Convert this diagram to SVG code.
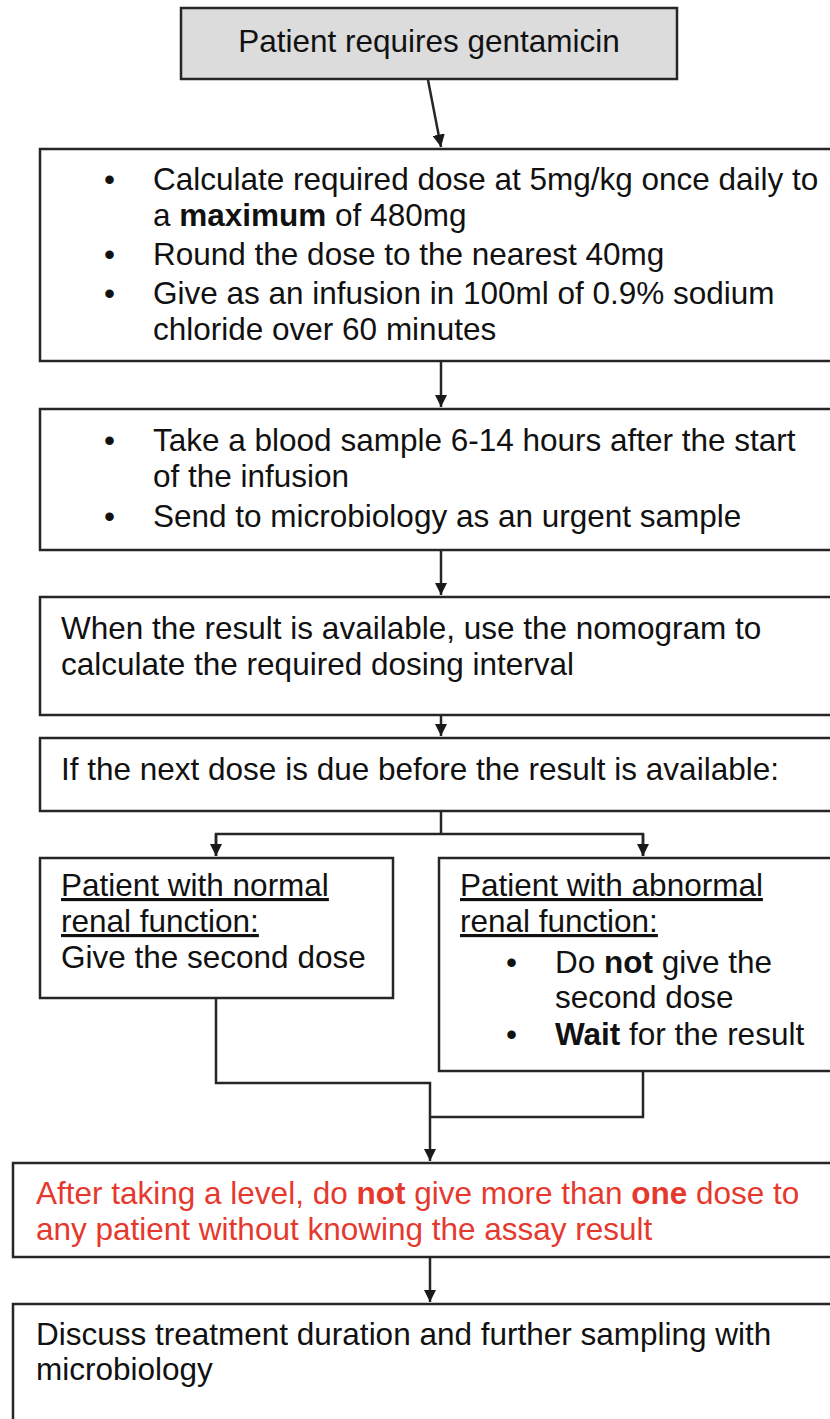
<svg xmlns="http://www.w3.org/2000/svg" width="830" height="1419" viewBox="0 0 830 1419">
<defs>
<style>
.box{fill:#ffffff;stroke:#262626;stroke-width:2.5}
.start{fill:#dcdcdc;stroke:#262626;stroke-width:2.5}
.t{font-family:"Liberation Sans",Arial,sans-serif;font-size:31.5px;fill:#111111}
.red{fill:#e6392e}
.b{font-weight:bold}
.u{text-decoration:underline}
.conn{fill:none;stroke:#262626;stroke-width:2.5}
</style>
<marker id="arr" viewBox="0 0 10 10" refX="10" refY="5" markerWidth="5" markerHeight="5" orient="auto" markerUnits="strokeWidth">
<path d="M0,0 L10,5 L0,10 Z" fill="#1a1a1a"/>
</marker>
</defs>
<rect width="830" height="1419" fill="#ffffff"/>

<g id="connectors">
<line class="conn" x1="428" y1="80" x2="441" y2="147" marker-end="url(#arr)"/>
<line class="conn" x1="441" y1="362" x2="441" y2="407" marker-end="url(#arr)"/>
<line class="conn" x1="441" y1="551" x2="441" y2="595" marker-end="url(#arr)"/>
<line class="conn" x1="441" y1="716" x2="441" y2="736" marker-end="url(#arr)"/>
<polyline class="conn" points="441,812 441,834"/>
<polyline class="conn" points="216,856 216,834 643,834 643,856"/>
<line class="conn" x1="216" y1="834" x2="216" y2="856" marker-end="url(#arr)"/>
<line class="conn" x1="643" y1="834" x2="643" y2="856" marker-end="url(#arr)"/>
<polyline class="conn" points="216,999 216,1083 430,1083 430,1161" marker-end="url(#arr)"/>
<polyline class="conn" points="643,1072 643,1117 430,1117"/>
<line class="conn" x1="430" y1="1258" x2="430" y2="1302" marker-end="url(#arr)"/>
</g>

<g id="n1">
<rect class="start" x="181" y="8" width="496" height="71"/>
<text class="t" x="429" y="52" text-anchor="middle">Patient requires gentamicin</text>
</g>

<g id="n2">
<rect class="box" x="40" y="149" width="800" height="212"/>
<text class="t" x="104" y="190">•</text>
<text class="t" x="153" y="190">Calculate required dose at 5mg/kg once daily to</text>
<text class="t" x="153" y="226">a <tspan class="b">maximum</tspan> of 480mg</text>
<text class="t" x="104" y="265">•</text>
<text class="t" x="153" y="265">Round the dose to the nearest 40mg</text>
<text class="t" x="104" y="304">•</text>
<text class="t" x="153" y="304">Give as an infusion in 100ml of 0.9% sodium</text>
<text class="t" x="153" y="340">chloride over 60 minutes</text>
</g>

<g id="n3">
<rect class="box" x="40" y="409" width="800" height="141"/>
<text class="t" x="104" y="451">•</text>
<text class="t" x="153" y="451">Take a blood sample 6-14 hours after the start</text>
<text class="t" x="153" y="487">of the infusion</text>
<text class="t" x="104" y="527">•</text>
<text class="t" x="153" y="527">Send to microbiology as an urgent sample</text>
</g>

<g id="n4">
<rect class="box" x="40" y="597" width="800" height="118"/>
<text class="t" x="61" y="639">When the result is available, use the nomogram to</text>
<text class="t" x="61" y="675">calculate the required dosing interval</text>
</g>

<g id="n5">
<rect class="box" x="40" y="738" width="800" height="73"/>
<text class="t" x="61" y="780">If the next dose is due before the result is available:</text>
</g>

<g id="n6">
<rect class="box" x="40" y="858" width="353" height="140"/>
<text class="t u" x="61" y="896">Patient with normal</text>
<text class="t u" x="61" y="932">renal function:</text>
<text class="t" x="61" y="968">Give the second dose</text>
</g>

<g id="n7">
<rect class="box" x="439" y="858" width="400" height="213"/>
<text class="t u" x="460" y="896">Patient with abnormal</text>
<text class="t u" x="460" y="932">renal function:</text>
<text class="t" x="506" y="973">•</text>
<text class="t" x="555" y="973">Do <tspan class="b">not</tspan> give the</text>
<text class="t" x="555" y="1008">second dose</text>
<text class="t" x="506" y="1045">•</text>
<text class="t" x="555" y="1045"><tspan class="b">Wait</tspan> for the result</text>
</g>

<g id="n8">
<rect class="box" x="13" y="1163" width="827" height="94"/>
<text class="t red" x="36" y="1204">After taking a level, do <tspan class="b">not</tspan> give more than <tspan class="b">one</tspan> dose to</text>
<text class="t red" x="36" y="1240">any patient without knowing the assay result</text>
</g>

<g id="n9">
<rect class="box" x="13" y="1304" width="827" height="130"/>
<text class="t" x="36" y="1345">Discuss treatment duration and further sampling with</text>
<text class="t" x="36" y="1380">microbiology</text>
</g>
</svg>
